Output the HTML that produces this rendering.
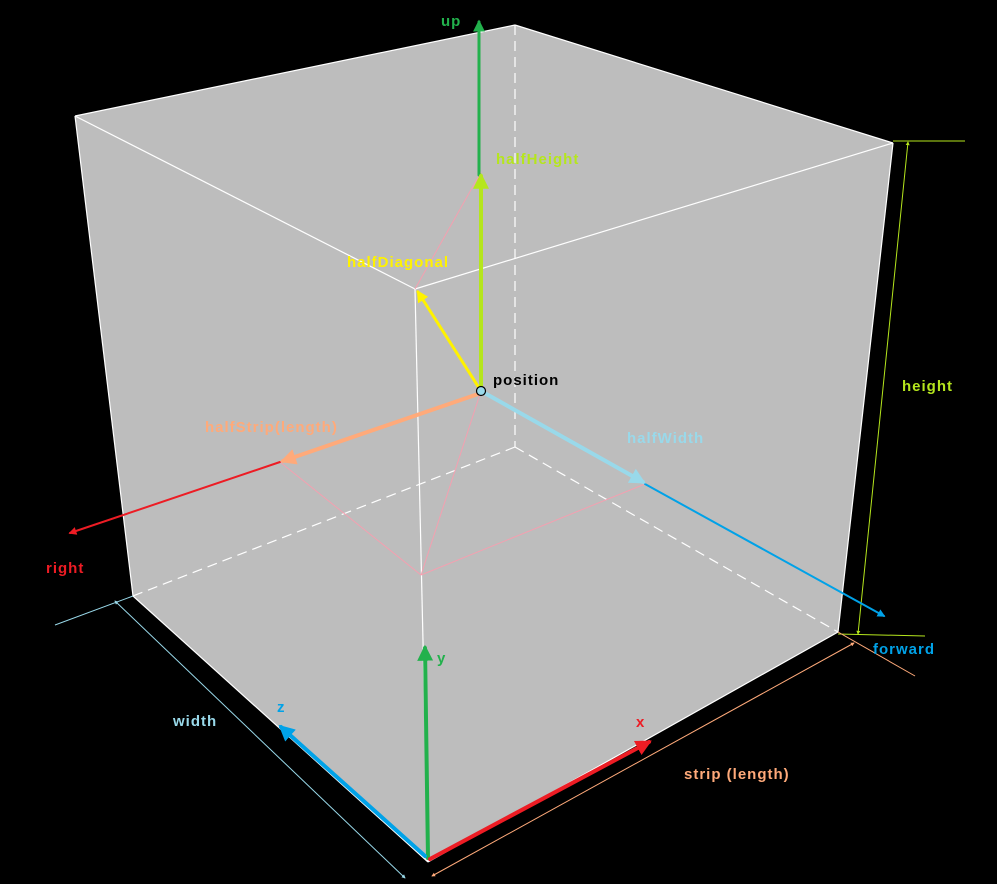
<!DOCTYPE html>
<html><head><meta charset="utf-8"><style>
html,body{margin:0;padding:0;background:#000;}
svg{display:block;}
text{font-family:"Liberation Sans",sans-serif;font-weight:bold;font-size:15px;letter-spacing:1px;}
</style></head><body>
<svg width="997" height="884" viewBox="0 0 997 884">
<defs>
<marker id="ah" viewBox="0 0 10 10" refX="8" refY="5" markerWidth="4" markerHeight="4" orient="auto-start-reverse"><path d="M0,0L10,5L0,10z" fill="context-stroke"/></marker>
</defs>
<polygon points="75,116 515,25 893,143 838,632 428,862 133,596" fill="#bdbdbd"/>
<g stroke="#fff" stroke-width="1.2" fill="none">
<line x1="75" y1="116" x2="415" y2="289"/>
<line x1="415" y1="289" x2="893" y2="143"/>
<line x1="75" y1="116" x2="515" y2="25"/>
<line x1="515" y1="25" x2="893" y2="143"/>
<line x1="75" y1="116" x2="133" y2="596"/>
<line x1="893" y1="143" x2="838" y2="632"/>
<line x1="133" y1="596" x2="428" y2="862"/>
<line x1="428" y1="862" x2="838" y2="632"/>
<line x1="415" y1="289" x2="428" y2="862"/>
</g>
<g stroke="#fff" stroke-width="1.2" stroke-dasharray="10,6" fill="none">
<line x1="515" y1="25" x2="515" y2="447"/>
<line x1="515" y1="447" x2="133" y2="596"/>
<line x1="515" y1="447" x2="838" y2="632"/>
</g>
<g stroke="#f4a0b0" stroke-width="1" fill="none">
<line x1="481" y1="172" x2="415" y2="289"/>
<line x1="280" y1="462" x2="421" y2="575"/>
<line x1="421" y1="575" x2="645" y2="484"/>
<line x1="421" y1="575" x2="481" y2="391"/>
</g>
<g fill="none" stroke-width="1">
<line x1="893" y1="141" x2="965" y2="141" stroke="#b5e61d"/>
<line x1="838" y1="634" x2="925" y2="636" stroke="#b5e61d"/>
<line x1="908" y1="142" x2="858" y2="634" stroke="#b5e61d" marker-start="url(#ah)" marker-end="url(#ah)"/>
<line x1="55" y1="625" x2="133" y2="596" stroke="#99d9ea"/>
<line x1="115" y1="601" x2="405" y2="878" stroke="#99d9ea" marker-start="url(#ah)" marker-end="url(#ah)"/>
<line x1="838" y1="632" x2="915" y2="676" stroke="#ffaa7a"/>
<line x1="432" y1="876" x2="854" y2="643" stroke="#ffaa7a" marker-start="url(#ah)" marker-end="url(#ah)"/>
</g>
<g fill="none" stroke-linecap="round">
<line x1="479" y1="175" x2="479" y2="22" stroke="#22b14c" stroke-width="3" marker-end="url(#ah)"/>
<line x1="481" y1="391" x2="481" y2="176" stroke="#b5e61d" stroke-width="4" marker-end="url(#ah)"/>
<line x1="481" y1="391" x2="418" y2="292" stroke="#fff200" stroke-width="3" marker-end="url(#ah)"/>
<line x1="280" y1="462" x2="70" y2="533" stroke="#ed1c24" stroke-width="2" marker-end="url(#ah)"/>
<line x1="481" y1="393" x2="283" y2="461" stroke="#ffaa7a" stroke-width="4" marker-end="url(#ah)"/>
<line x1="645" y1="484" x2="884" y2="616" stroke="#00a2e8" stroke-width="2" marker-end="url(#ah)"/>
<line x1="481" y1="391" x2="643" y2="482" stroke="#99d9ea" stroke-width="4" marker-end="url(#ah)"/>
<line x1="428" y1="858" x2="425" y2="648" stroke="#22b14c" stroke-width="4" marker-end="url(#ah)"/>
<line x1="425" y1="856" x2="281" y2="727" stroke="#00a2e8" stroke-width="4" marker-end="url(#ah)"/>
<line x1="430" y1="859" x2="649" y2="742" stroke="#ed1c24" stroke-width="4" marker-end="url(#ah)"/>
</g>
<circle cx="481" cy="391" r="4.5" fill="#99d9ea" stroke="#000" stroke-width="1.2"/>
<g>
<text x="441" y="26" fill="#22b14c">up</text>
<text x="496" y="164" fill="#b5e61d">halfHeight</text>
<text x="347" y="267" fill="#fff200">halfDiagonal</text>
<text x="493" y="385" fill="#000">position</text>
<text x="205" y="432" fill="#ffaa7a">halfStrip(length)</text>
<text x="627" y="443" fill="#99d9ea">halfWidth</text>
<text x="902" y="391" fill="#b5e61d">height</text>
<text x="46" y="573" fill="#ed1c24">right</text>
<text x="873" y="654" fill="#00a2e8">forward</text>
<text x="437" y="663" fill="#22b14c">y</text>
<text x="277" y="712" fill="#00a2e8">z</text>
<text x="173" y="726" fill="#99d9ea">width</text>
<text x="636" y="727" fill="#ed1c24">x</text>
<text x="684" y="779" fill="#ffaa7a">strip  (length)</text>
</g>
</svg>
</body></html>
